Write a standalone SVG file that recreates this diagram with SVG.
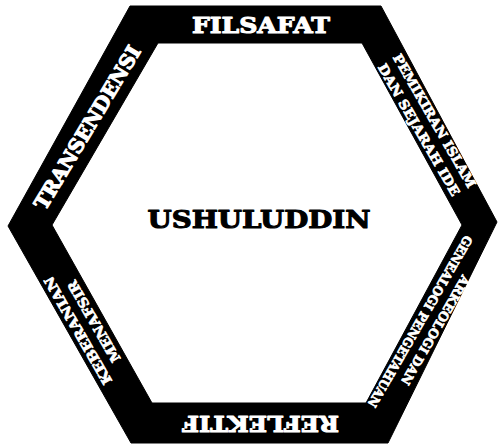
<svg xmlns="http://www.w3.org/2000/svg" width="498" height="447" viewBox="0 0 498 447">
<style>
.t{font-family:"DejaVu Serif","Liberation Serif",serif;font-weight:bold;text-anchor:middle;stroke-width:0.7;stroke-linejoin:round}
.big{stroke-width:1.1}
.w{fill:#ffffff;stroke:#ffffff}
.k{fill:#000000;stroke:#000000}
</style>
<rect width="498" height="447" fill="#ffffff"/>
<g id="frame">
<path d="M130,6 L381,6 L497,222 L388,443 L131,443 L8,226 Z M158,43 L52,225 L152,403 L366,403 L462,225 L362,43 Z" fill="#000" fill-rule="evenodd" stroke="#000" stroke-width="1" stroke-linejoin="round"/>
</g>
<g id="center">
<text class="t k big" x="259" y="228" font-size="25" textLength="223" lengthAdjust="spacingAndGlyphs">USHULUDDIN</text>
</g>
<g id="filsafat">
<text class="t w big" x="261" y="32.5" font-size="23" textLength="138" lengthAdjust="spacingAndGlyphs">FILSAFAT</text>
</g>
<g id="reflektif" transform="translate(260.5,424) rotate(180)">
<text class="t w big" x="0" y="8.5" font-size="23" textLength="157" lengthAdjust="spacingAndGlyphs">REFLEKTIF</text>
</g>
<g id="transendensi" transform="translate(87.5,127.5) rotate(-59)">
<text class="t w big" x="0" y="7" font-size="20" textLength="187" lengthAdjust="spacingAndGlyphs">TRANSENDENSI</text>
</g>
<g id="pemikiran" transform="translate(427,125) rotate(60)">
<text class="t w" x="0" y="-4" font-size="13" textLength="152" lengthAdjust="spacingAndGlyphs">PEMIKIRAN ISLAM</text>
<text class="t w" x="0" y="14" font-size="13" textLength="150" lengthAdjust="spacingAndGlyphs">DAN SEJARAH IDE</text>
</g>
<g id="arkeologi" transform="translate(428,326) rotate(120)">
<text class="t w" x="0" y="-4" font-size="12.5" textLength="124" lengthAdjust="spacingAndGlyphs">ARKEOLOGI DAN</text>
<text class="t w" x="0" y="13.5" font-size="12.5" textLength="196" lengthAdjust="spacingAndGlyphs">GENEALOGI PENGETAHUAN</text>
</g>
<g id="keberanian" transform="translate(86,326) rotate(-120)">
<text class="t w" x="0" y="-4.5" font-size="13.5" textLength="122" lengthAdjust="spacingAndGlyphs">KEBERANIAN</text>
<text class="t w" x="0" y="14" font-size="13.5" textLength="92" lengthAdjust="spacingAndGlyphs">MENAFSIR</text>
</g>
</svg>
